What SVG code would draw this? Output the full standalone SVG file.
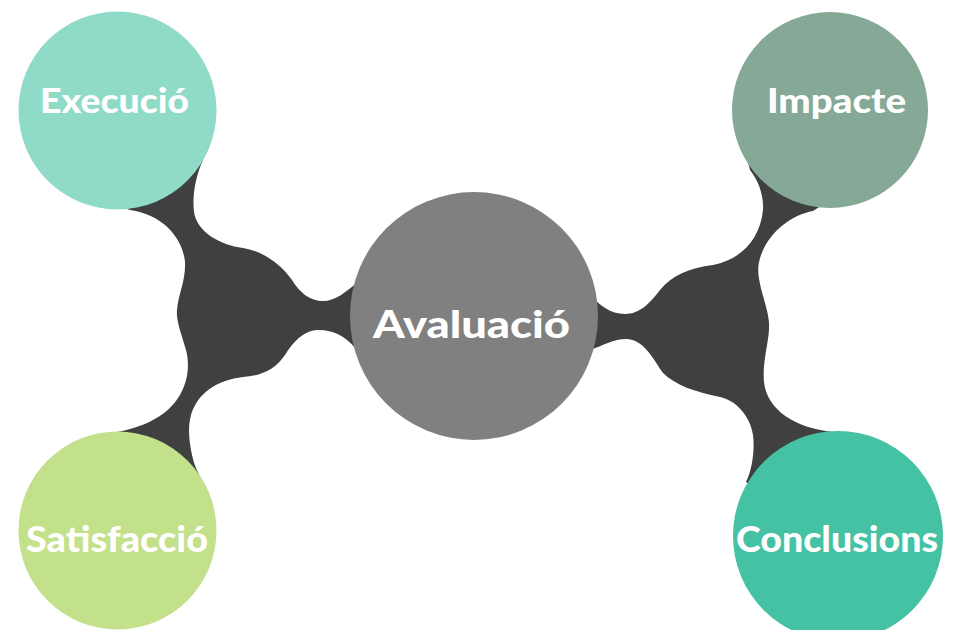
<svg xmlns="http://www.w3.org/2000/svg" width="955" height="630" viewBox="0 0 955 630">
<style>
.conn{fill:#404040;stroke:none}
.lbl{fill:#ffffff;font-family:Lato,"Open Sans","Liberation Sans",sans-serif;font-weight:900}
</style>
<rect width="955" height="630" fill="#ffffff"/>
<g id="connectors">
<path class="conn" d="M 118 205 L 205 140 L 203 160 C 196 175, 192 195, 194 212 C 197 232, 220 245, 243 248 C 262 251, 280 263, 292 280 C 300 293, 310 301, 323 301 C 335 301, 345 293, 360 280 L 380 280 L 380 350 L 355 348 C 345 335, 330 329, 317 330 C 303 331, 293 342, 285 355 C 275 370, 260 376, 243 377 C 218 380, 198 392, 191 415 C 187 430, 190 445, 192 455 C 194 465, 198 473, 202 480 L 190 500 L 117 440 L 117 432 C 140 428, 165 418, 178 398 C 188 383, 190 365, 186 350 C 182 335, 176 322, 177 310 C 178 295, 186 280, 185 262 C 183 240, 165 215, 130 210 Z"/>
<path class="conn" d="M 745 150 L 830 200 L 813 211 C 790 215, 765 235, 759 262 C 755 280, 768 305, 769 323 C 770 340, 762 360, 764 382 C 767 410, 795 428, 833 432 L 838 450 L 760 490 L 746 482 C 752 470, 755 450, 753 435 C 750 415, 735 400, 720 397 C 695 392, 675 385, 663 373 C 655 362, 645 340, 627 339 C 612 339, 605 345, 590 350 L 575 350 L 575 290 L 590 295 C 600 305, 610 314, 625 314 C 640 314, 650 303, 660 290 C 672 275, 690 268, 713 265 C 740 260, 760 240, 763 210 C 764 195, 758 180, 750 170 Z"/>
</g>
<g id="node-avaluacio">
<circle cx="474" cy="316" r="124" fill="#808080"/>
<text class="lbl" x="373" y="338" font-size="38" textLength="197" lengthAdjust="spacingAndGlyphs">Avaluació</text>
</g>
<g id="node-execucio">
<circle cx="117.5" cy="110.5" r="99" fill="#8fdbc8"/>
<text class="lbl" x="40" y="113" font-size="35" textLength="149" lengthAdjust="spacingAndGlyphs">Execució</text>
</g>
<g id="node-satisfaccio">
<circle cx="117.5" cy="530.5" r="99" fill="#c3e08b"/>
<text class="lbl" x="26" y="552" font-size="36" textLength="182" lengthAdjust="spacingAndGlyphs">Satisfacció</text>
</g>
<g id="node-impacte">
<circle cx="830" cy="110" r="98" fill="#86a997"/>
<text class="lbl" x="767" y="113" font-size="35" textLength="139" lengthAdjust="spacingAndGlyphs">Impacte</text>
</g>
<g id="node-conclusions">
<circle cx="838" cy="536" r="105" fill="#45c1a3"/>
<text class="lbl" x="736" y="552" font-size="36" textLength="202" lengthAdjust="spacingAndGlyphs">Conclusions</text>
</g>
</svg>
